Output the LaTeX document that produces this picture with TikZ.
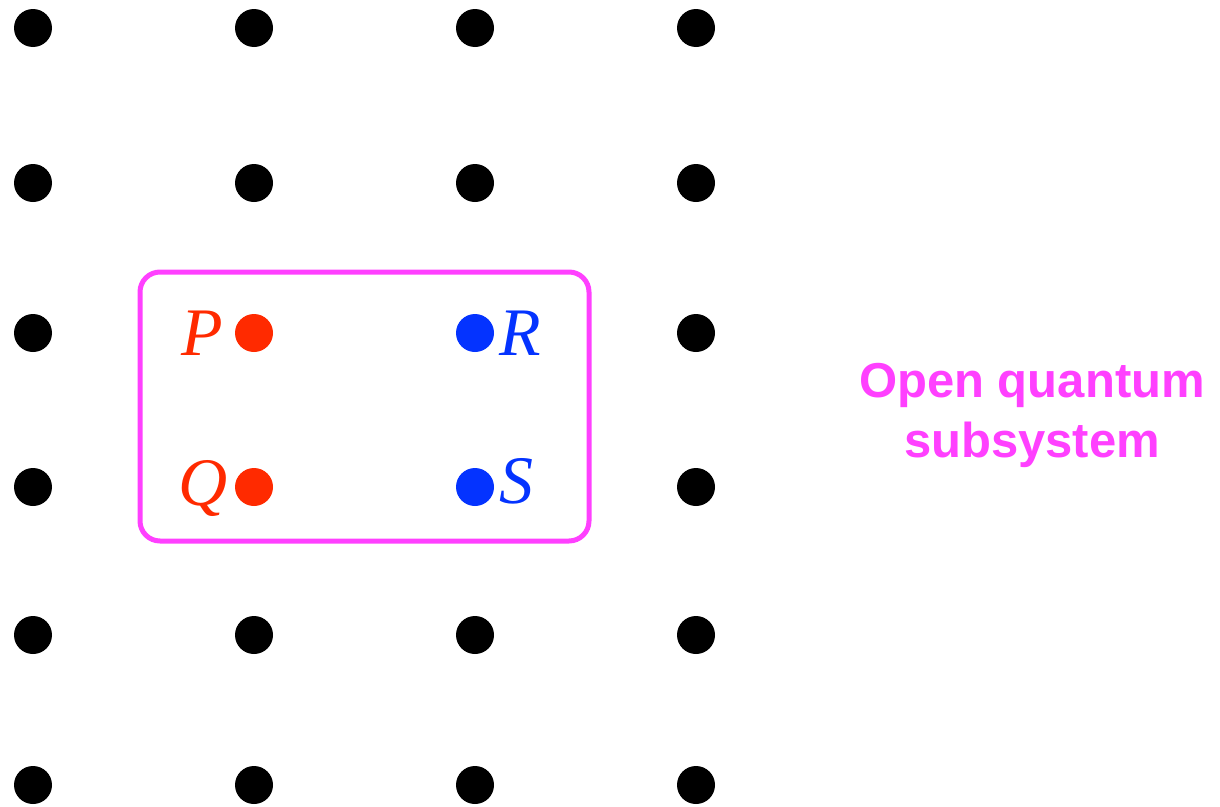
\documentclass[tikz,border=0pt]{standalone}
\usepackage{fontspec}
\setmainfont{Liberation Serif}
\newfontfamily\labelsans{Liberation Sans}
\definecolor{qred}{HTML}{FF2A00}
\definecolor{qblue}{HTML}{0433FF}
\definecolor{qmag}{HTML}{FF40FF}
\begin{document}
\begin{tikzpicture}[x=1pt,y=-1pt,
  site/.style={circle,fill=#1,inner sep=0pt,minimum size=38pt},
  site/.default=black,
  sitelabel/.style={inner sep=0pt,anchor=base west,text=#1,font=\fontsize{68}{68}\selectfont\itshape},
  subsys/.style={draw=qmag,line width=5pt,rounded corners=20pt}]
\useasboundingbox (0,0) rectangle (1220,806);
% lattice of sites
\foreach \r/\y in {1/28,2/183,5/635,6/785}
  \foreach \c/\x in {1/33,2/254,3/475,4/696}
    \node[site] (s\r\c) at (\x,\y) {};
\foreach \r/\y in {3/333,4/487}
  \foreach \c/\x in {1/33,4/696}
    \node[site] (s\r\c) at (\x,\y) {};
% sites of the open subsystem
\node[site=qred] (p) at (254,333) {};
\node[site=qred] (q) at (254,487) {};
\node[site=qblue] (r) at (475,333) {};
\node[site=qblue] (s) at (475,487) {};
\node[sitelabel=qred] (lp) at (181,355) {P};
\node[sitelabel=qred] (lq) at (178,505) {Q};
\node[sitelabel=qblue] (lr) at (499,355) {R};
\node[sitelabel=qblue] (ls) at (499,503) {S};
% subsystem boundary
\draw[subsys] (140,272) rectangle (589,541);
\node[align=center,text=qmag,font=\labelsans\bfseries\fontsize{49}{60}\selectfont,inner sep=0pt] (title) at (1032,415) {Open quantum\\subsystem};
\end{tikzpicture}
\end{document}
